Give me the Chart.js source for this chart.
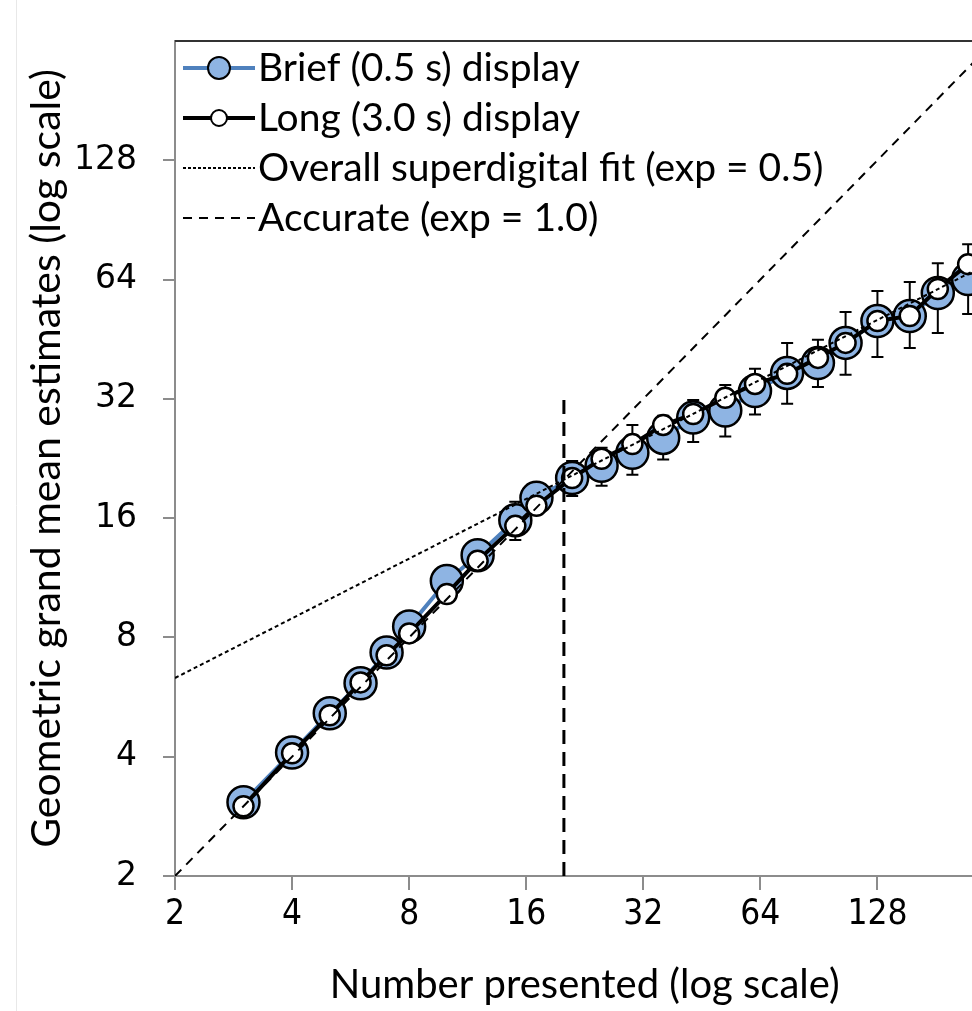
<!DOCTYPE html>
<html lang="en">
<head>
  <meta charset="UTF-8">
  <title>Geometric grand mean estimates</title>
  <script src="https://cdn.jsdelivr.net/npm/chart.js"></script>
  <style>
    html, body { margin: 0; padding: 0; background: #fff; overflow: hidden; }
    /* chart is wider than the window: the right end of the plot is cropped like the original */
    #wrap { width: 1013px; height: 1011px; position: relative; }
  </style>
</head>
<body>
  <div id="wrap"><canvas id="estChart"></canvas></div>

  <script>
    // numbers presented (x) and geometric grand mean estimates (y)
    const numbers    = [3, 4, 5, 6, 7, 8, 10, 12, 15, 17, 21, 25, 30, 36, 43, 52, 62, 75, 90, 106, 128, 155, 183, 219];
    const briefMeans = [3.07, 4.10, 5.15, 6.13, 7.33, 8.53, 11.1, 12.9, 15.8, 18.0, 20.2, 21.7, 23.4, 25.5, 28.7, 29.9, 33.5, 37.2, 39.4, 44.3, 50.3, 51.8, 59.2, 64.2];
    const longMeans  = [3.00, 4.08, 5.09, 6.16, 7.21, 8.19, 10.3, 12.5, 15.3, 17.2, 20.2, 22.6, 24.6, 27.5, 29.3, 32.2, 34.9, 37.0, 40.6, 44.3, 50.3, 51.8, 60.6, 70.0];
    // error bars of the brief display
    const briefLow   = [2.90, 3.90, 4.90, 5.80, 6.90, 8.00, 10.4, 12.0, 14.1, 16.7, 18.2, 19.3, 20.6, 22.5, 24.9, 25.7, 29.2, 31.1, 34.3, 36.8, 40.8, 43.0, 46.9, 52.4];
    const briefHigh  = [3.25, 4.30, 5.40, 6.50, 7.80, 9.10, 11.9, 13.8, 17.6, 19.3, 22.3, 24.1, 27.5, 29.0, 31.8, 34.7, 38.1, 44.3, 45.1, 53.0, 59.9, 63.1, 70.4, 78.6];

    // reference lines
    const fitX      = [2, 256];
    const fitY      = [6.32, 71.6];
    const accurateX = [2, 256];
    const accurateY = [2, 256];
    const breakX    = [20, 20];
    const breakY    = [2, 32];

    const xTicks = [2, 4, 8, 16, 32, 64, 128];
    const yTicks = [2, 4, 8, 16, 32, 64, 128];

    const legendItems = [
      { label: 'Brief (0.5 s) display', kind: 'brief' },
      { label: 'Long (3.0 s) display', kind: 'long' },
      { label: 'Overall superdigital fit (exp = 0.5)', kind: 'dotted' },
      { label: 'Accurate (exp = 1.0)', kind: 'dashed' }
    ];

    const BLUE_LINE = '#4F81BD';
    const BLUE_FILL = '#8EB4E3';
    const AXIS_GREY = '#8c8c8c';

    function toPoints(xs, ys) {
      return xs.map((x, i) => ({ x: x, y: ys[i] }));
    }

    // error bars go under the markers
    const errorBars = {
      id: 'errorBars',
      beforeDatasetsDraw(chart) {
        const { ctx, scales: { x, y } } = chart;
        ctx.save();
        ctx.strokeStyle = '#000';
        ctx.lineWidth = 2;
        numbers.forEach((n, i) => {
          const px = x.getPixelForValue(n);
          const top = y.getPixelForValue(briefHigh[i]);
          const bot = y.getPixelForValue(briefLow[i]);
          ctx.beginPath();
          ctx.moveTo(px, top); ctx.lineTo(px, bot);
          ctx.moveTo(px - 6, top); ctx.lineTo(px + 6, top);
          ctx.moveTo(px - 6, bot); ctx.lineTo(px + 6, bot);
          ctx.stroke();
        });
        ctx.restore();
      }
    };

    // top frame line, faint page edge and the legend
    const frameAndLegend = {
      id: 'frameAndLegend',
      afterDraw(chart) {
        const { ctx, chartArea } = chart;
        ctx.save();
        ctx.strokeStyle = '#e8e8e8';
        ctx.lineWidth = 1;
        ctx.beginPath();
        ctx.moveTo(16.5, 0); ctx.lineTo(16.5, chart.height);
        ctx.stroke();

        ctx.strokeStyle = '#333';
        ctx.lineWidth = 2;
        ctx.beginPath();
        ctx.moveTo(chartArea.left, chartArea.top);
        ctx.lineTo(chartArea.right, chartArea.top);
        ctx.stroke();

        const x0 = 183, x1 = 255, textX = 258;
        ctx.font = '39px Lato, "Open Sans", sans-serif';
        ctx.textBaseline = 'middle';
        ctx.fillStyle = '#000';
        legendItems.forEach((item, i) => {
          const yy = 68 + i * 50;
          ctx.beginPath();
          ctx.setLineDash([]);
          if (item.kind === 'brief') {
            ctx.strokeStyle = BLUE_LINE; ctx.lineWidth = 4;
            ctx.moveTo(x0, yy); ctx.lineTo(x1, yy); ctx.stroke();
            ctx.beginPath();
            ctx.arc(219, yy, 11, 0, Math.PI * 2);
            ctx.fillStyle = BLUE_FILL; ctx.fill();
            ctx.strokeStyle = '#000'; ctx.lineWidth = 2; ctx.stroke();
          } else if (item.kind === 'long') {
            ctx.strokeStyle = '#000'; ctx.lineWidth = 4;
            ctx.moveTo(x0, yy); ctx.lineTo(x1, yy); ctx.stroke();
            ctx.beginPath();
            ctx.arc(219, yy, 8, 0, Math.PI * 2);
            ctx.fillStyle = '#fff'; ctx.fill();
            ctx.strokeStyle = '#000'; ctx.lineWidth = 2; ctx.stroke();
          } else {
            ctx.strokeStyle = '#000'; ctx.lineWidth = 2;
            ctx.setLineDash(item.kind === 'dotted' ? [3, 2] : [9, 7]);
            ctx.moveTo(x0, yy); ctx.lineTo(x1, yy); ctx.stroke();
            ctx.setLineDash([]);
          }
          ctx.fillStyle = '#000';
          ctx.fillText(item.label, textX, yy);
        });
        ctx.restore();
      }
    };

    function powerTicks(values) {
      return function(scale) {
        scale.ticks = values.map(v => ({ value: v }));
      };
    }

    new Chart(document.getElementById('estChart'), {
      type: 'scatter',
      data: {
        datasets: [
          {
            label: 'Break',
            data: toPoints(breakX, breakY),
            showLine: true,
            borderColor: '#000',
            borderWidth: 3,
            borderDash: [14, 8],
            pointRadius: 0,
            order: 0
          },
          {
            label: 'Accurate (exp = 1.0)',
            data: toPoints(accurateX, accurateY),
            showLine: true,
            borderColor: '#000',
            borderWidth: 2,
            borderDash: [9, 7],
            pointRadius: 0,
            order: 1
          },
          {
            label: 'Overall superdigital fit (exp = 0.5)',
            data: toPoints(fitX, fitY),
            showLine: true,
            borderColor: '#000',
            borderWidth: 2,
            borderDash: [4, 3],
            pointRadius: 0,
            order: 2
          },
          {
            label: 'Long (3.0 s) display',
            data: toPoints(numbers, longMeans),
            showLine: true,
            borderColor: '#000',
            borderWidth: 4,
            pointRadius: 10,
            pointBackgroundColor: '#fff',
            pointBorderColor: '#000',
            pointBorderWidth: 2.5,
            order: 3
          },
          {
            label: 'Brief (0.5 s) display',
            data: toPoints(numbers, briefMeans),
            showLine: true,
            borderColor: BLUE_LINE,
            borderWidth: 4,
            pointRadius: 16,
            pointBackgroundColor: BLUE_FILL,
            pointBorderColor: '#000',
            pointBorderWidth: 2.5,
            order: 4
          }
        ]
      },
      options: {
        responsive: true,
        maintainAspectRatio: false,
        animation: false,
        layout: { padding: { top: 41, right: 10, left: 0, bottom: 0 } },
        plugins: {
          legend: { display: false },
          tooltip: { enabled: false }
        },
        scales: {
          x: {
            type: 'logarithmic',
            min: 2,
            max: 256,
            afterBuildTicks: powerTicks(xTicks),
            afterFit: scale => { scale.height = 135; },
            border: { color: AXIS_GREY, width: 2 },
            grid: { drawOnChartArea: false, color: AXIS_GREY, lineWidth: 2, tickLength: 14 },
            ticks: {
              color: '#000',
              padding: 4,
              maxRotation: 0,
              autoSkip: false,
              font: { family: '"Liberation Sans Narrow", "DejaVu Sans Condensed", Lato, sans-serif', size: 35 },
              callback: v => String(v)
            },
            title: {
              display: true,
              text: 'Number presented (log scale)',
              color: '#000',
              font: { family: 'Lato, "Open Sans", sans-serif', size: 40 },
              padding: { top: 0, bottom: 2 }
            }
          },
          y: {
            type: 'logarithmic',
            min: 2,
            max: 256,
            afterBuildTicks: powerTicks(yTicks),
            afterFit: scale => {
              scale.width = 175;
              // no tick label sits at the top, so do not reserve room for one
              scale.paddingTop = 0;
              scale.paddingBottom = 0;
            },
            border: { color: AXIS_GREY, width: 2 },
            grid: { drawOnChartArea: false, color: AXIS_GREY, lineWidth: 2, tickLength: 12 },
            ticks: {
              color: '#000',
              padding: 26,
              autoSkip: false,
              font: { family: '"DejaVu Sans", Verdana, sans-serif', size: 33 },
              callback: v => String(v)
            },
            title: {
              display: true,
              text: 'Geometric grand mean estimates (log scale)',
              color: '#000',
              font: { family: 'Lato, "Open Sans", sans-serif', size: 41 },
              padding: { top: 22, bottom: 0 }
            }
          }
        }
      },
      plugins: [errorBars, frameAndLegend]
    });
  </script>
</body>
</html>
